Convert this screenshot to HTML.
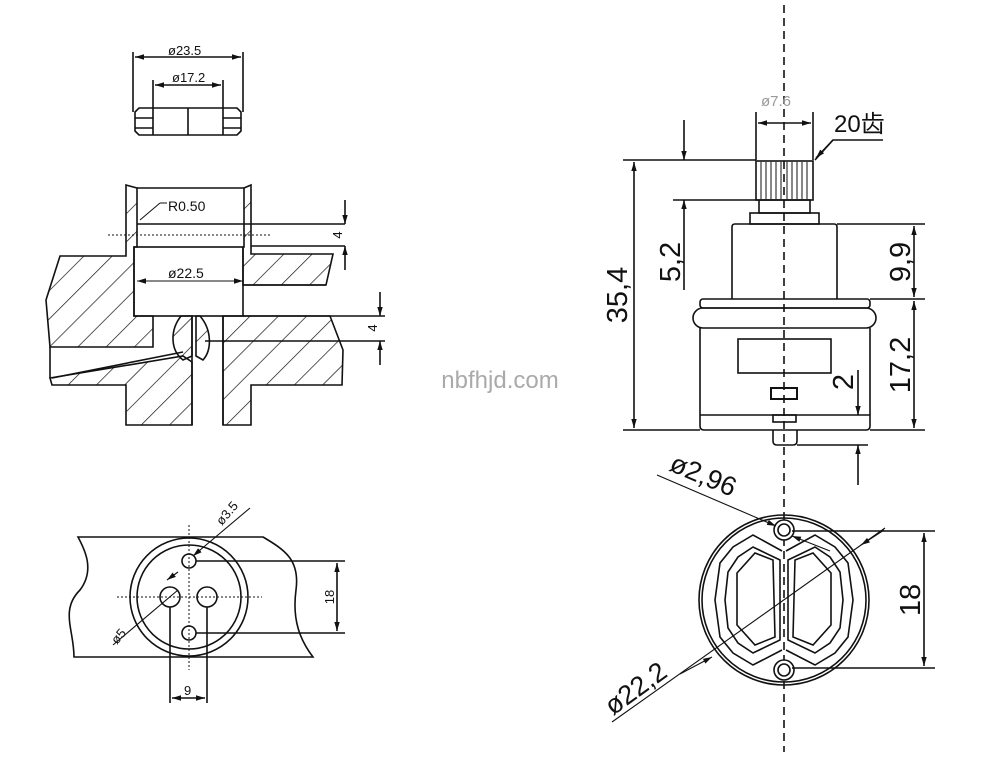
<!DOCTYPE html>
<html><head><meta charset="utf-8"><style>
html,body{margin:0;padding:0;background:#fff;}
svg{display:block;}
text{font-family:"Liberation Sans","Noto Sans CJK SC",sans-serif;fill:#111;}
</style></head><body>
<svg width="999" height="758" viewBox="0 0 999 758" xmlns="http://www.w3.org/2000/svg">
<defs>
<pattern id="h" patternUnits="userSpaceOnUse" width="20" height="20" patternTransform="rotate(45)">
<line x1="0" y1="0" x2="0" y2="20" stroke="#111" stroke-width="1.4"/>
</pattern>
<marker id="a" viewBox="0 0 10 10" refX="10" refY="5" markerWidth="9" markerHeight="9" orient="auto-start-reverse" markerUnits="userSpaceOnUse"><path d="M0,2 L10,5 L0,8z" fill="#111"/></marker>
</defs>
<g fill="none" stroke="#111" stroke-width="1.6">
<!-- top small part -->
<line x1="133" y1="52" x2="133" y2="112"/><line x1="243" y1="52" x2="243" y2="112"/>
<line x1="135" y1="57" x2="241" y2="57" marker-start="url(#a)" marker-end="url(#a)"/>
<line x1="153" y1="80" x2="153" y2="108"/><line x1="223" y1="80" x2="223" y2="108"/>
<line x1="155" y1="85" x2="221" y2="85" marker-start="url(#a)" marker-end="url(#a)"/>
<path d="M139,108 L237,108 L241,112 L241,131 L237,135 L139,135 L135,131 L135,112z"/>
<line x1="153" y1="108" x2="153" y2="135"/><line x1="188" y1="108" x2="188" y2="135"/><line x1="223" y1="108" x2="223" y2="135"/>
<line x1="135" y1="118" x2="153" y2="118"/><line x1="135" y1="128" x2="153" y2="128"/>
<line x1="223" y1="118" x2="241" y2="118"/><line x1="223" y1="128" x2="241" y2="128"/>

<!-- section view -->
<g fill="url(#h)">
<path d="M126,185 L137,188 L137,247 L134,247 L134,316 L153,316 L153,347 L50,347 L46,300 L60,256 L126,256z"/>
<path d="M244,188 L251,185 L251,254 L333,254 L326,285 L243,285 L243,247 L244,247z"/>
<path d="M223,316 L330,316 L343,350 L342,385 L251,385 L251,425 L223,425z"/>
<path d="M50,378 L183,356 L192,362 L192,425 L126,425 L126,385 L52,385z"/>
<path d="M181,316 C170,330 170,350 183,360 L192,356 L192,316z"/>
<path d="M196,316 L196,356 L203,360 C212,350 212,330 200,316z"/>
</g>
<line x1="137" y1="188" x2="244" y2="188"/>
<line x1="137" y1="224" x2="345" y2="224"/>
<rect x="134" y="247" width="109" height="69"/>
<line x1="243" y1="285" x2="326" y2="285"/>
<line x1="243" y1="316" x2="385" y2="316"/>
<line x1="205" y1="341" x2="385" y2="341"/>
<line x1="50" y1="347" x2="50" y2="378"/>
<line x1="52" y1="378" x2="183" y2="352"/>
<line x1="192" y1="316" x2="192" y2="425"/><line x1="223" y1="316" x2="223" y2="425"/>
<line x1="251" y1="246" x2="345" y2="246"/>
<line x1="345" y1="200" x2="345" y2="224" marker-end="url(#a)"/>
<line x1="345" y1="246" x2="345" y2="270" marker-start="url(#a)"/>
<line x1="380" y1="292" x2="380" y2="316" marker-end="url(#a)"/>
<line x1="380" y1="341" x2="380" y2="365" marker-start="url(#a)"/>
<line x1="137" y1="281" x2="243" y2="281" stroke-width="1" marker-start="url(#a)" marker-end="url(#a)"/>
<line x1="108" y1="235" x2="270" y2="235" stroke-dasharray="2,2" stroke-width="1"/>
<line x1="140" y1="220" x2="160" y2="203" stroke-width="1"/><line x1="160" y1="203" x2="167" y2="203" stroke-width="1"/>

<!-- plan view left -->
<path d="M78,537 L263,537 C285,550 300,560 296,590 C292,620 300,640 313,657 L74,657 C74,630 60,610 80,590 C95,570 85,550 78,537z"/>
<circle cx="189" cy="597" r="59" fill="#fff"/>
<circle cx="189" cy="597" r="52"/>
<circle cx="189" cy="561" r="7"/><circle cx="189" cy="633" r="7"/>
<circle cx="170" cy="597" r="10"/><circle cx="207" cy="597" r="10"/>
<g stroke-dasharray="2,2" stroke-width="1"><line x1="117" y1="597" x2="262" y2="597"/><line x1="189" y1="525" x2="189" y2="670"/></g>
<line x1="196" y1="561" x2="345" y2="561"/><line x1="196" y1="633" x2="345" y2="633"/>
<line x1="337" y1="563" x2="337" y2="631" marker-start="url(#a)" marker-end="url(#a)"/>
<line x1="170" y1="607" x2="170" y2="703"/><line x1="207" y1="607" x2="207" y2="703"/>
<line x1="172" y1="698" x2="205" y2="698" marker-start="url(#a)" marker-end="url(#a)"/>
<line x1="250" y1="508" x2="193" y2="556" stroke-width="1.1" marker-end="url(#a)"/>
<line x1="167" y1="580" x2="178" y2="572" stroke-width="1.1" marker-start="url(#a)"/>
<line x1="113" y1="645" x2="178" y2="590" stroke-width="1.1"/>

<!-- side view right -->
<line x1="784" y1="5" x2="784" y2="752" stroke-dasharray="8,5"/>
<line x1="756" y1="112" x2="756" y2="160"/><line x1="813" y1="112" x2="813" y2="160"/>
<line x1="758" y1="123" x2="811" y2="123" marker-start="url(#a)" marker-end="url(#a)"/>
<polyline points="883,140 833,140 815,160"/>
<line x1="833" y1="140" x2="816" y2="158" marker-end="url(#a)"/>
<rect x="756" y="161" width="57" height="39"/>
<g stroke-width="1">
<line x1="761" y1="162" x2="761" y2="199"/><line x1="766" y1="162" x2="766" y2="199"/><line x1="771" y1="162" x2="771" y2="199"/><line x1="776" y1="162" x2="776" y2="199"/><line x1="781" y1="162" x2="781" y2="199"/><line x1="787" y1="162" x2="787" y2="199"/><line x1="792" y1="162" x2="792" y2="199"/><line x1="797" y1="162" x2="797" y2="199"/><line x1="802" y1="162" x2="802" y2="199"/><line x1="807" y1="162" x2="807" y2="199"/>
</g>
<rect x="759" y="200" width="51" height="13"/>
<rect x="750" y="213" width="69" height="11"/>
<path d="M732,299 L732,227 Q732,224 735,224 L834,224 Q837,224 837,227 L837,299"/>
<rect x="700" y="299" width="170" height="9" rx="3"/>
<rect x="693" y="308" width="183" height="20" rx="10"/>
<path d="M700,328 L700,426 Q700,430 704,430 L866,430 Q870,430 870,426 L870,328"/>
<line x1="700" y1="415" x2="870" y2="415"/>
<rect x="738" y="339" width="93" height="34"/>
<rect x="771" y="388" width="26" height="11" stroke-width="2"/>
<rect x="773" y="415" width="23" height="7"/>
<path d="M773,430 L773,441 Q773,445 777,445 L793,445 Q797,445 797,441 L797,430"/>
<line x1="623" y1="160" x2="756" y2="160"/><line x1="623" y1="430" x2="700" y2="430"/>
<line x1="634" y1="162" x2="634" y2="428" marker-start="url(#a)" marker-end="url(#a)"/>
<line x1="673" y1="200" x2="758" y2="200"/>
<line x1="684" y1="120" x2="684" y2="160" marker-end="url(#a)"/>
<line x1="684" y1="200" x2="684" y2="290" marker-start="url(#a)"/>
<line x1="837" y1="224" x2="925" y2="224"/><line x1="870" y1="299" x2="925" y2="299"/><line x1="870" y1="430" x2="925" y2="430"/>
<line x1="914" y1="226" x2="914" y2="297" marker-start="url(#a)" marker-end="url(#a)"/>
<line x1="914" y1="301" x2="914" y2="428" marker-start="url(#a)" marker-end="url(#a)"/>
<line x1="797" y1="445" x2="868" y2="445"/>
<line x1="858" y1="370" x2="858" y2="415" marker-end="url(#a)"/>
<line x1="858" y1="445" x2="858" y2="485" marker-start="url(#a)"/>

<!-- bottom view -->
<circle cx="784" cy="600" r="85"/><circle cx="784" cy="600" r="82"/>
<g>
<path d="M782,551 L753,535 L733,547 L720,563 L715,600 L720,637 L733,653 L753,665 L782,650"/>
<path d="M780,560 L753,547 L738,557 L728,572 L725,600 L728,628 L738,643 L753,653 L780,640z"/>
<path d="M755,553 L773,560 L775,637 L755,645 L737,625 L737,573z"/>
</g>
<g transform="translate(1568,0) scale(-1,1)">
<path d="M782,551 L753,535 L733,547 L720,563 L715,600 L720,637 L733,653 L753,665 L782,650"/>
<path d="M780,560 L753,547 L738,557 L728,572 L725,600 L728,628 L738,643 L753,653 L780,640z"/>
<path d="M755,553 L773,560 L775,637 L755,645 L737,625 L737,573z"/>
</g>
<circle cx="784" cy="530" r="10" fill="#fff"/><circle cx="784" cy="530" r="6"/>
<circle cx="784" cy="670" r="10" fill="#fff"/><circle cx="784" cy="670" r="6"/>
<line x1="792" y1="531" x2="935" y2="531"/><line x1="792" y1="668" x2="935" y2="668"/>
<line x1="924" y1="533" x2="924" y2="666" marker-start="url(#a)" marker-end="url(#a)"/>
<line x1="657" y1="475" x2="776" y2="526" stroke-width="1.1" marker-end="url(#a)"/>
<line x1="792" y1="536" x2="830" y2="551" stroke-width="1.1" marker-start="url(#a)"/>
<line x1="612" y1="722" x2="885" y2="528" stroke-width="1.1"/>
<line x1="680" y1="674" x2="712" y2="657" stroke-width="1.1" marker-end="url(#a)"/>
<line x1="884" y1="530" x2="861" y2="545" stroke-width="1.1" marker-end="url(#a)"/>
</g>
<!-- text -->
<text x="168" y="55" font-size="13">ø23.5</text>
<text x="172" y="82" font-size="13">ø17.2</text>
<text x="168" y="211" font-size="14">R0.50</text>
<text x="168" y="278" font-size="14">ø22.5</text>
<text transform="translate(342,235) rotate(-90)" font-size="13" text-anchor="middle">4</text>
<text transform="translate(377,328) rotate(-90)" font-size="13" text-anchor="middle">4</text>
<text transform="translate(334,597) rotate(-90)" font-size="13" text-anchor="middle">18</text>
<text x="184" y="695" font-size="13">9</text>
<text transform="translate(222,526) rotate(-50)" font-size="13">ø3.5</text>
<text transform="translate(117,645) rotate(-50)" font-size="13">ø5</text>
<text x="500" y="388" font-size="24" text-anchor="middle" style="fill:#aaa">nbfhjd.com</text>
<text x="761" y="106" font-size="15" style="fill:#999">ø7.6</text>
<text x="834" y="132" font-size="24">20齿</text>
<text transform="translate(627,295) rotate(-90)" font-size="29" text-anchor="middle">35,4</text>
<text transform="translate(680,262) rotate(-90)" font-size="29" text-anchor="middle">5,2</text>
<text transform="translate(910,262) rotate(-90)" font-size="29" text-anchor="middle">9,9</text>
<text transform="translate(910,365) rotate(-90)" font-size="29" text-anchor="middle">17,2</text>
<text transform="translate(853,382) rotate(-90)" font-size="29" text-anchor="middle">2</text>
<text transform="translate(920,600) rotate(-90)" font-size="29" text-anchor="middle">18</text>
<text transform="translate(668,470) rotate(23)" font-size="27">ø2,96</text>
<text transform="translate(613,716) rotate(-36)" font-size="27">ø22,2</text>
</svg>
</body></html>
